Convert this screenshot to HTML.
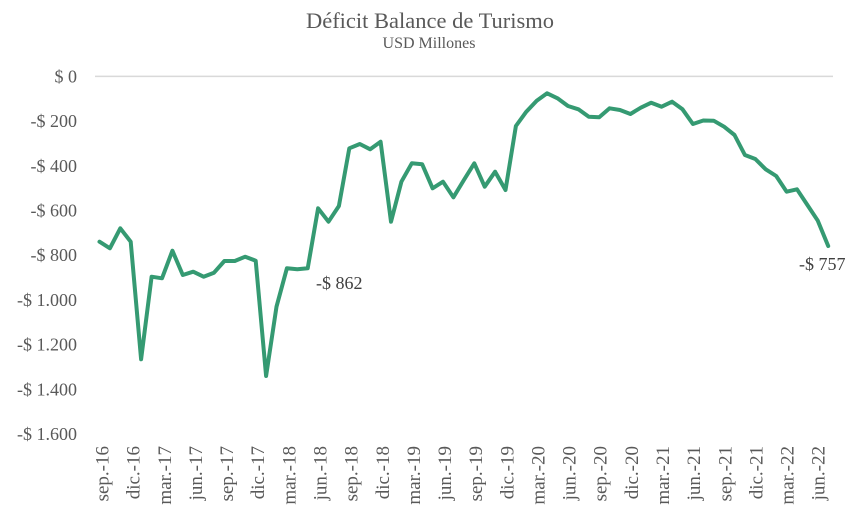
<!DOCTYPE html>
<html><head><meta charset="utf-8"><style>
html,body{margin:0;padding:0;background:#fff;}
svg{display:block;}
text{font-family:"Liberation Serif",serif;fill:#595959;}
</style></head><body>
<svg width="868" height="519" viewBox="0 0 868 519" xmlns="http://www.w3.org/2000/svg">
<rect width="868" height="519" fill="#fff"/>
<text x="430" y="28" text-anchor="middle" font-size="22.5">Déficit Balance de Turismo</text>
<text x="429" y="48" text-anchor="middle" font-size="16">USD Millones</text>
<line x1="95" y1="76.4" x2="833" y2="76.4" stroke="#d9d9d9" stroke-width="1.5"/>
<g font-size="18" text-anchor="end">
<text x="77" y="82.4">$ 0</text>
<text x="77" y="127.1">-$ 200</text>
<text x="77" y="171.8">-$ 400</text>
<text x="77" y="216.5">-$ 600</text>
<text x="77" y="261.2">-$ 800</text>
<text x="77" y="305.9">-$ 1.000</text>
<text x="77" y="350.6">-$ 1.200</text>
<text x="77" y="395.3">-$ 1.400</text>
<text x="77" y="440">-$ 1.600</text>
</g>
<g font-size="19" text-anchor="end">
<text transform="translate(108.5,446) rotate(-90)">sep.-16</text>
<text transform="translate(139.6,446) rotate(-90)">dic.-16</text>
<text transform="translate(170.8,446) rotate(-90)">mar.-17</text>
<text transform="translate(201.9,446) rotate(-90)">jun.-17</text>
<text transform="translate(233.1,446) rotate(-90)">sep.-17</text>
<text transform="translate(264.2,446) rotate(-90)">dic.-17</text>
<text transform="translate(295.3,446) rotate(-90)">mar.-18</text>
<text transform="translate(326.5,446) rotate(-90)">jun.-18</text>
<text transform="translate(357.6,446) rotate(-90)">sep.-18</text>
<text transform="translate(388.8,446) rotate(-90)">dic.-18</text>
<text transform="translate(419.9,446) rotate(-90)">mar.-19</text>
<text transform="translate(451.0,446) rotate(-90)">jun.-19</text>
<text transform="translate(482.2,446) rotate(-90)">sep.-19</text>
<text transform="translate(513.3,446) rotate(-90)">dic.-19</text>
<text transform="translate(544.5,446) rotate(-90)">mar.-20</text>
<text transform="translate(575.6,446) rotate(-90)">jun.-20</text>
<text transform="translate(606.7,446) rotate(-90)">sep.-20</text>
<text transform="translate(637.9,446) rotate(-90)">dic.-20</text>
<text transform="translate(669.0,446) rotate(-90)">mar.-21</text>
<text transform="translate(700.2,446) rotate(-90)">jun.-21</text>
<text transform="translate(731.3,446) rotate(-90)">sep.-21</text>
<text transform="translate(762.4,446) rotate(-90)">dic.-21</text>
<text transform="translate(793.6,446) rotate(-90)">mar.-22</text>
<text transform="translate(824.7,446) rotate(-90)">jun.-22</text>
</g>
<polyline fill="none" stroke="#359a72" stroke-width="4" stroke-linejoin="round" stroke-linecap="round" points="
99.5,241.7 109.9,248.3 120.3,228.3 130.7,241.7 141.1,359.3 151.6,276.7 162.0,278.3 172.4,250.7 182.8,275 193.2,271.7
203.6,276.7 214.0,272.7 224.4,261 234.8,261 245.2,256.7 255.7,260.7 266.1,376 276.5,306.7 286.9,268.3 297.3,269.3
307.7,268.3 318.1,208.3 328.5,221.7 338.9,206 349.3,148.3 359.8,144 370.2,149.3 380.6,141.7 391.0,221.7 401.4,181.7
411.8,163.3 422.2,164.3 432.6,188.3 443.0,181.7 453.4,197.3 463.9,180 474.3,163.3 484.7,186.7 495.1,171.7 505.5,190
515.9,126 526.3,111.7 536.7,100.7 547.1,93.3 557.5,98.3 568.0,106 578.4,109.3 588.8,116.7 599.2,117.3 609.6,108.3
620.0,110 630.4,114 640.8,107.7 651.2,102.7 661.6,106.7 672.1,101.7 682.5,109.3 692.9,124 703.3,120.5 713.7,120.7
724.1,126.7 734.5,135 744.9,155 755.3,159 765.7,169.3 776.2,176 786.6,191.7 797.0,189.3 807.4,205 817.8,220.7 828.2,246"/>
<text x="316" y="289" font-size="18" fill="#404040" style="fill:#404040">-$ 862</text>
<text x="799" y="270" font-size="18" style="fill:#404040">-$ 757</text>
</svg>
</body></html>
